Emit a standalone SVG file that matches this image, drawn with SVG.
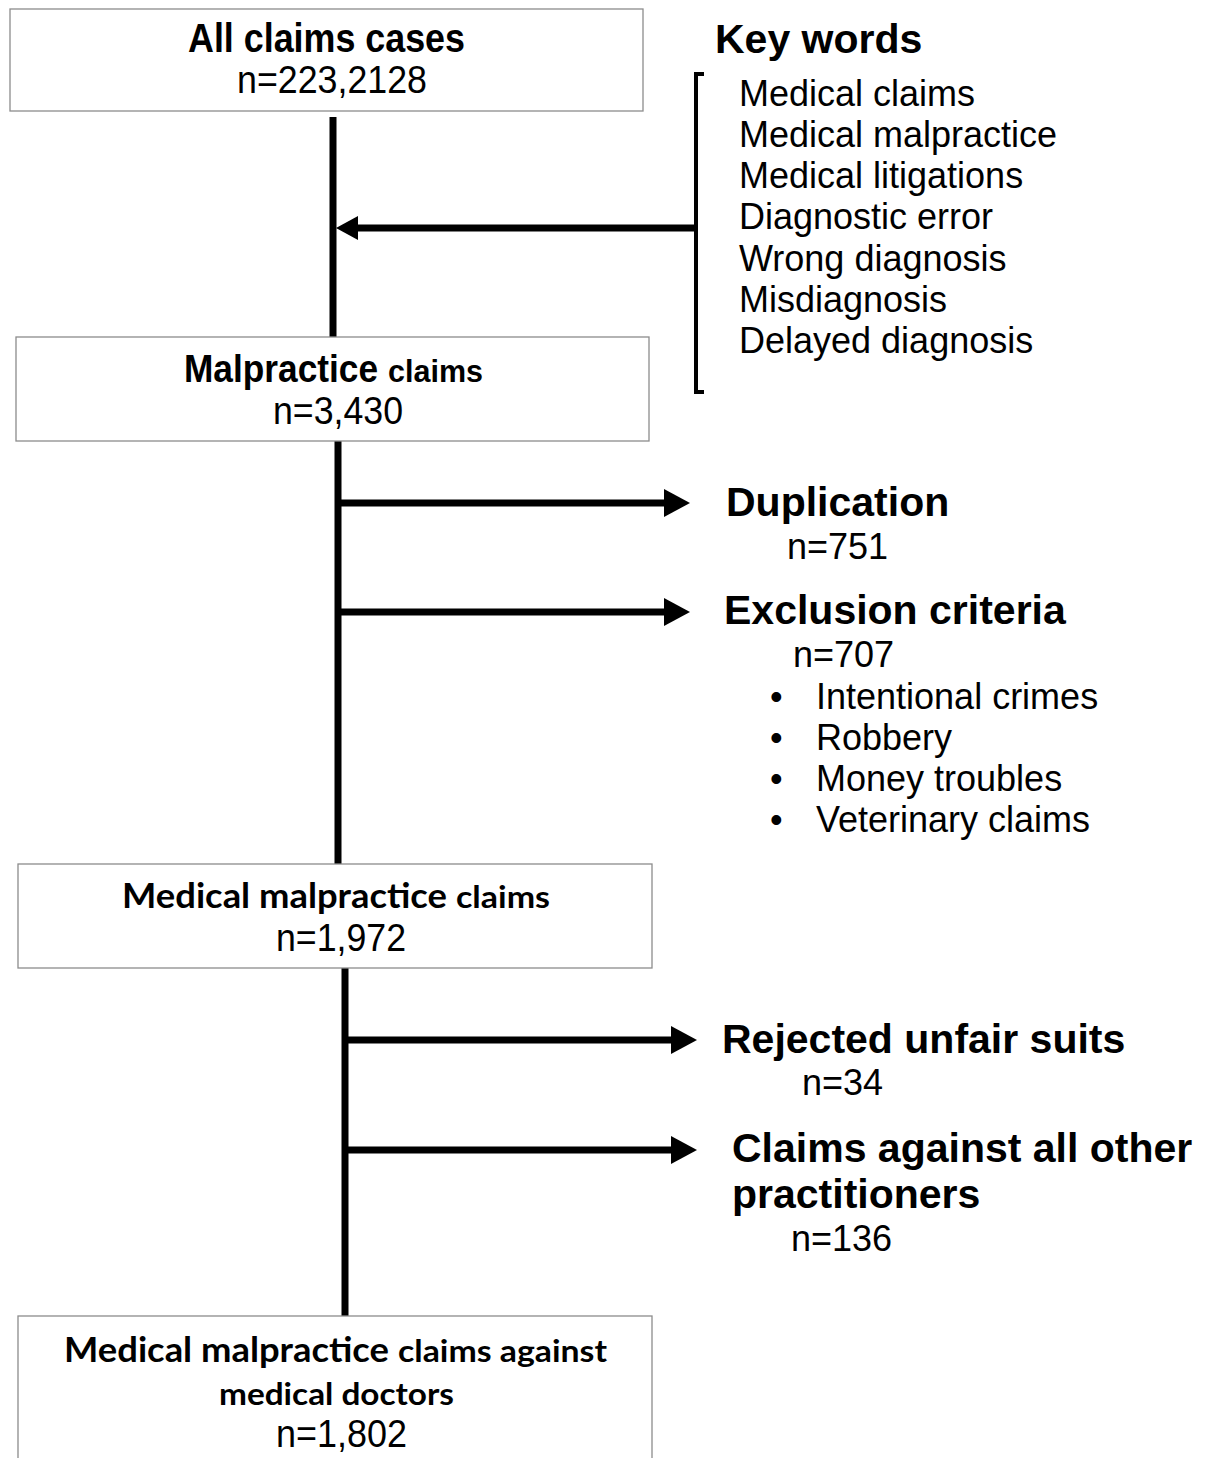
<svg xmlns="http://www.w3.org/2000/svg" width="1211" height="1458" viewBox="0 0 1211 1458">
<defs>
<style>
.box{fill:#fff;stroke:#8c8c8c;stroke-width:1.3}
.ln{stroke:#000;stroke-width:7;fill:none}
.hd{fill:#000}
.t{font-family:"Liberation Sans",Arial,sans-serif;fill:#000}
.b{font-weight:bold}
.c{font-family:Lato,"Open Sans",sans-serif;font-weight:bold;fill:#000}
.s36{font-size:36px}
.s40{font-size:41px}
</style>
</defs>
<rect width="1211" height="1458" fill="#fff"/>
<g id="connectors">
<line class="ln" x1="333" y1="117" x2="333" y2="338"/>
<line class="ln" x1="338" y1="441" x2="338" y2="864"/>
<line class="ln" x1="345" y1="968" x2="345" y2="1317"/>
<path d="M704,74 H696 V392 H704" fill="none" stroke="#000" stroke-width="4"/>
<line class="ln" x1="696" y1="228" x2="352" y2="228"/>
<polygon class="hd" points="336,228 358,216 358,240"/>
<line class="ln" x1="338" y1="503" x2="668" y2="503"/>
<polygon class="hd" points="690,503 664,489 664,517"/>
<line class="ln" x1="338" y1="612" x2="668" y2="612"/>
<polygon class="hd" points="690,612 664,598 664,626"/>
<line class="ln" x1="345" y1="1040" x2="675" y2="1040"/>
<polygon class="hd" points="697,1040 671,1026 671,1054"/>
<line class="ln" x1="345" y1="1150" x2="675" y2="1150"/>
<polygon class="hd" points="697,1150 671,1136 671,1164"/>
</g>
<g id="n1">
<rect class="box" x="10" y="9" width="633" height="102"/>
<text class="t b" x="188" y="52" font-size="40" textLength="277" lengthAdjust="spacingAndGlyphs">All claims cases</text>
<text class="t" x="237" y="93" font-size="38" textLength="190" lengthAdjust="spacingAndGlyphs">n=223,2128</text>
</g>
<g id="keywords">
<text class="t b s40" x="715" y="53">Key words</text>
<g class="t s36">
<text x="739" y="106">Medical claims</text>
<text x="739" y="147">Medical malpractice</text>
<text x="739" y="188">Medical litigations</text>
<text x="739" y="229">Diagnostic error</text>
<text x="739" y="271">Wrong diagnosis</text>
<text x="739" y="312">Misdiagnosis</text>
<text x="739" y="353">Delayed diagnosis</text>
</g>
</g>
<g id="n2">
<rect class="box" x="16" y="337" width="633" height="104"/>
<text class="t b" x="184" y="382" font-size="38"><tspan textLength="194" lengthAdjust="spacingAndGlyphs">Malpractice</tspan><tspan x="388" font-size="32" textLength="95" lengthAdjust="spacingAndGlyphs">claims</tspan></text>
<text class="t" x="273" y="424" font-size="38" textLength="130" lengthAdjust="spacingAndGlyphs">n=3,430</text>
</g>
<g id="duplication">
<text class="t b s40" x="726" y="516">Duplication</text>
<text class="t s36" x="787" y="559">n=751</text>
</g>
<g id="exclusion">
<text class="t b s40" x="724" y="624">Exclusion criteria</text>
<text class="t s36" x="793" y="667">n=707</text>
<g class="t s36">
<text x="770" y="709">•</text><text x="816" y="709">Intentional crimes</text>
<text x="770" y="750">•</text><text x="816" y="750">Robbery</text>
<text x="770" y="791">•</text><text x="816" y="791">Money troubles</text>
<text x="770" y="832">•</text><text x="816" y="832">Veterinary claims</text>
</g>
</g>
<g id="n3">
<rect class="box" x="18" y="864" width="634" height="104"/>
<text class="c" x="122" y="908" font-size="35"><tspan textLength="325" lengthAdjust="spacingAndGlyphs">Medical malpractice</tspan><tspan x="456" font-size="31" textLength="94" lengthAdjust="spacingAndGlyphs">claims</tspan></text>
<text class="t" x="276" y="951" font-size="38" textLength="130" lengthAdjust="spacingAndGlyphs">n=1,972</text>
</g>
<g id="rejected">
<text class="t b s40" x="722" y="1053">Rejected unfair suits</text>
<text class="t s36" x="802" y="1095">n=34</text>
</g>
<g id="others">
<text class="t b s40" x="732" y="1162">Claims against all other</text>
<text class="t b s40" x="732" y="1208">practitioners</text>
<text class="t s36" x="791" y="1251">n=136</text>
</g>
<g id="n4">
<rect class="box" x="18" y="1316" width="634" height="150"/>
<text class="c" x="64" y="1362" font-size="35"><tspan textLength="325" lengthAdjust="spacingAndGlyphs">Medical malpractice</tspan><tspan x="398" font-size="31" textLength="209" lengthAdjust="spacingAndGlyphs">claims against</tspan></text>
<text class="c" x="219" y="1405" font-size="31" textLength="235" lengthAdjust="spacingAndGlyphs">medical doctors</text>
<text class="t" x="276" y="1447" font-size="38" textLength="131" lengthAdjust="spacingAndGlyphs">n=1,802</text>
</g>
</svg>
